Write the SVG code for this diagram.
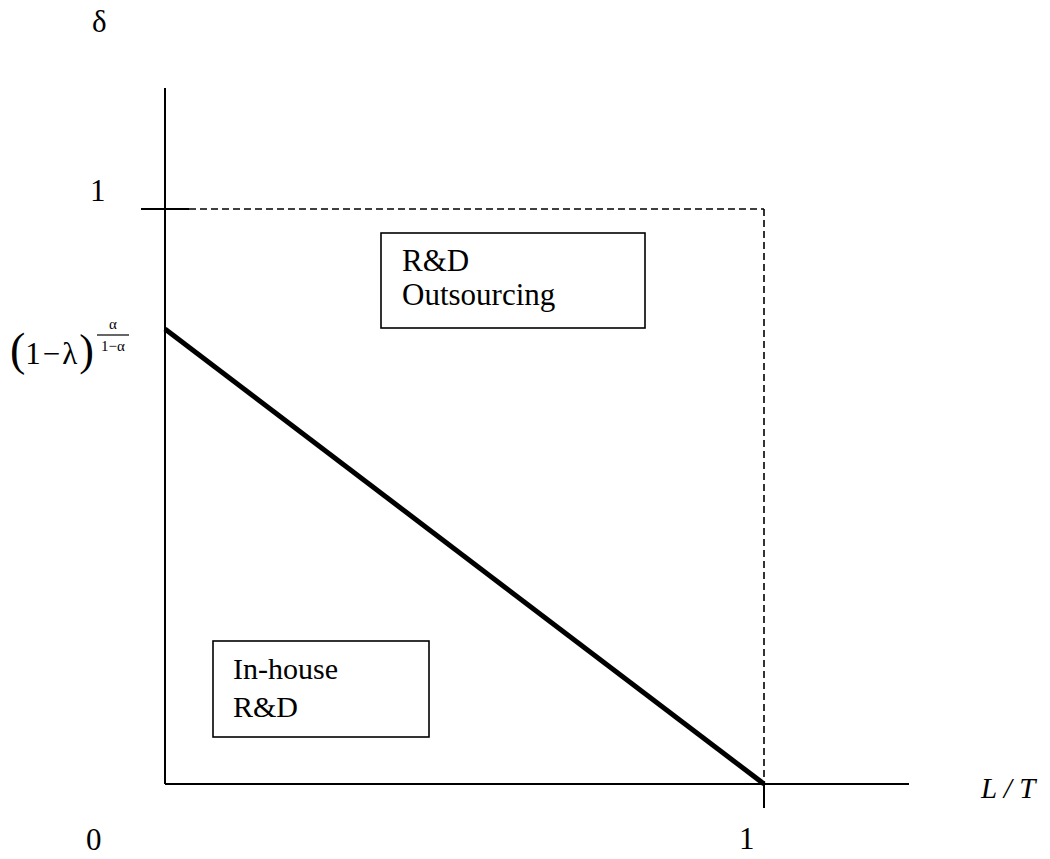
<svg xmlns="http://www.w3.org/2000/svg" width="1050" height="859" viewBox="0 0 1050 859">
<style>
.t{font-family:"Liberation Serif","Times New Roman",serif;fill:#000}
.ax{stroke:#000;stroke-width:2;fill:none}
.dash{stroke:#000;stroke-width:1.6;fill:none;stroke-dasharray:7 4}
.box{stroke:#000;stroke-width:1.6;fill:#fff}
</style>
<rect width="1050" height="859" fill="#fff"/>
<g id="axes">
<line class="ax" x1="165" y1="88" x2="165" y2="784"/>
<line class="ax" x1="165" y1="784" x2="909" y2="784"/>
<line class="ax" x1="141" y1="209" x2="189" y2="209"/>
<line class="ax" x1="764" y1="784" x2="764" y2="808"/>
</g>
<g id="connectors">
<line class="dash" x1="189" y1="209" x2="764" y2="209"/>
<line class="dash" x1="764" y1="209" x2="764" y2="784"/>
<line stroke="#000" stroke-width="5" x1="165" y1="329" x2="764" y2="784"/>
</g>
<g id="labels">
<text class="t" x="92" y="32" font-size="31">δ</text>
<text class="t" x="90" y="201" font-size="31">1</text>
<text class="t" x="86" y="850" font-size="31">0</text>
<text class="t" x="739" y="849" font-size="31">1</text>
<text class="t" x="981" y="798" font-size="29" font-style="italic">L / T</text>
</g>
<g id="formula">
<text class="t" x="10" y="365" font-size="31"><tspan font-size="46">(</tspan><tspan dy="-1">1</tspan><tspan dx="2">−</tspan><tspan dx="2">λ</tspan><tspan font-size="44" dx="2" dy="1">)</tspan></text>
<text class="t" x="113" y="329" font-size="15" text-anchor="middle">α</text>
<line stroke="#000" stroke-width="1.2" x1="97" y1="335" x2="129" y2="335"/>
<text class="t" x="113" y="351" font-size="15" text-anchor="middle">1−α</text>
</g>
<g id="outsourcing">
<rect class="box" x="381" y="233" width="264" height="95"/>
<text class="t" font-size="31"><tspan x="402" y="271">R&amp;D</tspan><tspan x="402" y="305">Outsourcing</tspan></text>
</g>
<g id="inhouse">
<rect class="box" x="213" y="641" width="216" height="96"/>
<text class="t" font-size="30"><tspan x="233" y="679">In-house</tspan><tspan x="233" y="717">R&amp;D</tspan></text>
</g>
</svg>
